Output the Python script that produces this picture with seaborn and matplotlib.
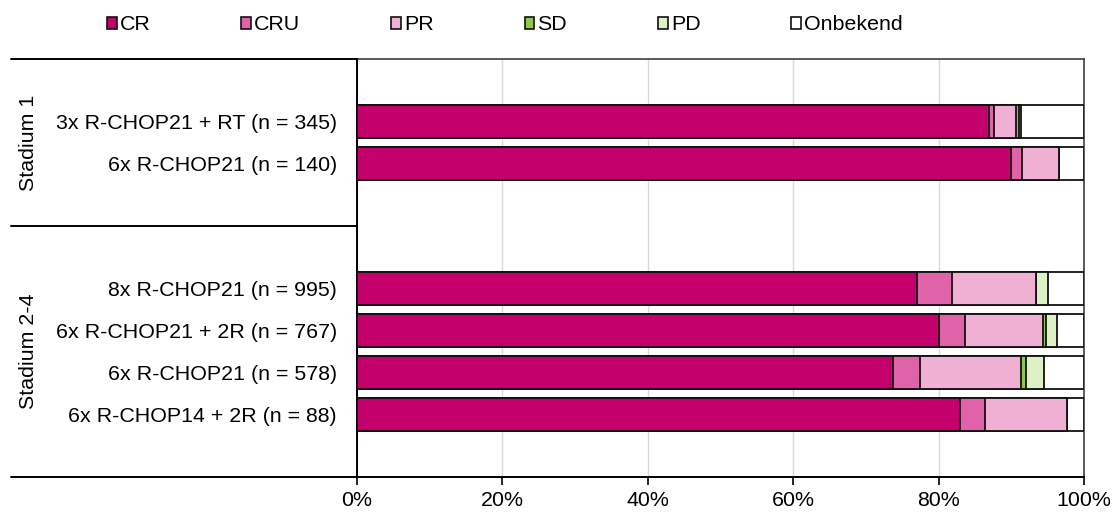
import matplotlib
matplotlib.use("Agg")
import matplotlib.pyplot as plt
from matplotlib.patches import Patch
import numpy as np
import pandas as pd
import seaborn as sns

# Treatment regimens, top to bottom
regimens = [
    "3x R-CHOP21 + RT (n = 345)",
    "6x R-CHOP21 (n = 140)",
    "8x R-CHOP21 (n = 995)",
    "6x R-CHOP21 + 2R (n = 767)",
    "6x R-CHOP21 (n = 578)",
    "6x R-CHOP14 + 2R (n = 88)",
]
stages = ["Stadium 1", "Stadium 2-4"]

# Response shares (%) per regimen
cr       = [86.9, 90.0, 77.0, 80.1, 73.7, 83.0]
cru      = [0.7, 1.5, 4.9, 3.6, 3.7, 3.4]
pr       = [3.1, 5.0, 11.5, 10.7, 13.9, 11.3]
sd       = [0.3, 0.0, 0.0, 0.4, 0.7, 0.0]
pd_      = [0.3, 0.0, 1.6, 1.5, 2.5, 0.0]
onbekend = [8.7, 3.5, 5.0, 3.7, 5.5, 2.3]

categories = ["CR", "CRU", "PR", "SD", "PD", "Onbekend"]
colors = ["#C3006B", "#E062A9", "#EFB0D3", "#8CC84B", "#DEF0C5", "#FFFFFF"]
x_ticks = [0, 20, 40, 60, 80, 100]

# Slot positions on the category axis (empty slots separate the stages)
slots = [1, 2, 5, 6, 7, 8]
n_slots = 10

sns.set_theme(style="white")
plt.rcParams["font.family"] = ["Liberation Sans", "DejaVu Sans"]
plt.rcParams["text.color"] = "#000000"
plt.rcParams["xtick.color"] = "#000000"
plt.rcParams["ytick.color"] = "#000000"
plt.rcParams["xtick.labelcolor"] = "#000000"
plt.rcParams["ytick.labelcolor"] = "#000000"

FS = 15.4

fig = plt.figure(figsize=(11.12, 5.12), dpi=100)
W, H = 1112, 512
ax = fig.add_axes([357 / W, (H - 477) / H, (1084 - 357) / W, (477 - 59) / H])

series = [cr, cru, pr, sd, pd_, onbekend]
cum = np.cumsum(np.array(series, dtype=float), axis=0)

# Stacked bars: draw cumulative totals from the longest to the shortest
for k in range(len(categories) - 1, -1, -1):
    df = pd.DataFrame({"value": cum[k], "slot": slots})
    sns.barplot(data=df, x="value", y="slot", orient="h", native_scale=True,
                color=colors[k], saturation=1, width=0.79, errorbar=None,
                edgecolor="#111111", linewidth=1.3, ax=ax, zorder=3)

ax.set_xlim(0, 100)
ax.set_ylim(n_slots - 0.5, -0.5)
ax.set_xticks(x_ticks)
ax.set_xticklabels([f"{t}%" for t in x_ticks], fontsize=FS)
ax.set_yticks(slots)
ax.set_yticklabels(regimens, fontsize=FS)
ax.set_xlabel("")
ax.set_ylabel("")

ax.xaxis.grid(True, color="#D9D9D9", linewidth=1.0, zorder=0)
ax.yaxis.grid(False)
ax.set_axisbelow(True)

ax.tick_params(axis="y", length=0, pad=14.5)
ax.tick_params(axis="x", direction="out", length=6, width=1.2, pad=4, bottom=True)

for side in ["left", "bottom"]:
    ax.spines[side].set_color("#000000")
    ax.spines[side].set_linewidth(1.4)
for side in ["top", "right"]:
    ax.spines[side].set_color("#404040")
    ax.spines[side].set_linewidth(1.2)

# Stage bracket lines left of the plot area
x_left = (11 - 357) / (1084 - 357)
for yy in [-0.5, 3.5, n_slots - 0.5]:
    ax.plot([x_left, 0], [yy, yy], transform=ax.get_yaxis_transform(),
            color="#000000", linewidth=1.4, clip_on=False, zorder=5)

# Stage labels
fig.text(29 / W, (H - 142.5) / H, stages[0], rotation=90, ha="center",
         va="center", fontsize=FS)
fig.text(29 / W, (H - 351) / H, stages[1], rotation=90, ha="center",
         va="center", fontsize=FS)

# Legend across the top
handles = [Patch(facecolor=c, edgecolor="#111111", linewidth=1.2) for c in colors]
fig.legend(handles, categories, loc="center left", ncol=6,
           bbox_to_anchor=(107 / W, (H - 25) / H), frameon=False,
           fontsize=FS, handlelength=0.45, handleheight=0.45,
           handletextpad=0.15, columnspacing=4.25, borderpad=0, borderaxespad=0)

fig.savefig("out.png", dpi=100)
